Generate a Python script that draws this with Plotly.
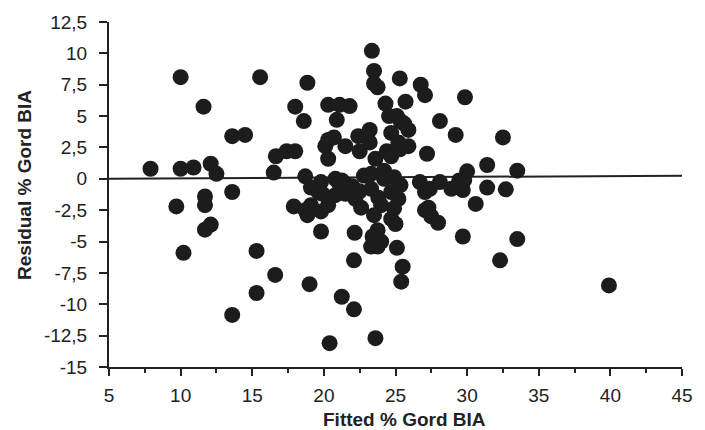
import plotly.graph_objects as go

# Data (Fitted % Gord BIA vs Residual % Gord BIA)
fitted = [
    7.9, 10.0, 10.0, 10.9, 11.6, 12.1, 12.5, 13.6, 14.5, 13.6, 9.7, 11.7, 11.7, 11.7, 12.1,
    10.2, 15.55, 15.3, 15.3, 16.6, 13.6, 18.85, 18.0, 18.6, 16.65, 17.4, 18.0, 16.5, 18.7,
    19.1, 19.65, 19.8, 17.9, 18.85, 19.1, 18.7, 20.3, 19.8, 19.8, 19.0, 20.4, 21.25, 22.1,
    22.1, 22.15,
    20.3, 21.1, 21.8, 20.9, 20.3, 20.1, 20.7, 20.3, 21.5, 22.4, 22.5, 23.2, 23.2, 23.6, 24.4,
    24.7, 24.7, 23.35, 23.5, 23.5, 23.75, 25.3, 26.76, 27.06, 29.85, 24.3, 25.7, 24.55, 25.1,
    25.35, 25.6, 25.9, 25.2, 25.9, 25.3, 28.1, 29.2, 32.5, 27.2, 31.4, 30.0, 33.5,
    21.0, 21.25, 20.8, 21.5, 22.0, 22.8, 23.3, 24.2, 24.9, 24.2, 23.3, 22.5, 24.7, 22.2, 20.8,
    19.9, 21.5, 23.8, 25.35, 25.2, 26.7, 27.06, 27.4, 28.1, 28.9, 29.45, 29.7, 29.8, 31.4,
    32.7, 30.6, 24.0, 24.9,
    22.6, 23.5, 24.7, 25.0, 23.75, 23.4, 23.3, 23.75, 24.0, 25.1, 25.5, 25.4, 23.6, 27.06,
    27.5, 27.97, 27.3, 29.7, 33.5, 32.3, 39.9,
]
residual = [
    0.8, 8.1, 0.8, 0.9, 5.75, 1.2, 0.4, 3.4, 3.5, -1.05, -2.2, -1.4, -2.1, -4.05, -3.65,
    -5.9, 8.1, -5.75, -9.1, -7.66, -10.85, 7.66, 5.75, 4.6, 1.8, 2.2, 2.2, 0.5, 0.2,
    -0.7, -1.1, -0.26, -2.2, -2.9, -2.1, -2.5, -2.1, -2.6, -4.2, -8.4, -13.1, -9.4, -10.4,
    -6.5, -4.3,
    5.9, 5.9, 5.8, 4.7, 3.1, 2.6, 3.3, 1.6, 2.6, 3.4, 2.2, 3.9, 2.9, 1.6, 2.2,
    3.66, 1.8, 10.2, 8.6, 7.6, 7.3, 8.0, 7.5, 6.67, 6.5, 6.0, 6.15, 5.0, 5.0,
    4.6, 4.4, 3.9, 2.9, 2.6, 2.35, 4.6, 3.5, 3.3, 2.0, 1.1, 0.6, 0.65,
    -0.26, -0.13, 0.0, -0.4, -0.6, 0.26, 0.4, 0.65, 0.13, 0.0, -0.8, -1.0, -1.05, -1.6, -1.3,
    -1.2, -1.2, -1.5, -0.5, -1.6, -0.26, -1.05, -0.8, -0.26, -0.8, -0.13, -0.9, -0.1, -0.7,
    -0.84, -2.0, -2.1, -2.35,
    -2.3, -2.9, -3.2, -3.6, -4.1, -4.6, -5.4, -5.4, -5.0, -5.5, -7.0, -8.2, -12.7, -2.5,
    -3.0, -3.5, -2.3, -4.6, -4.8, -6.5, -8.5,
]

# Fitted regression line of residuals (nearly flat at zero)
line_x = [5, 45]
line_y = [0.0, 0.25]

x_ticks = [5, 10, 15, 20, 25, 30, 35, 40, 45]
y_ticks = [12.5, 10, 7.5, 5, 2.5, 0, -2.5, -5, -7.5, -10, -12.5, -15]
y_tick_text = ["12,5", "10", "7,5", "5", "2,5", "0", "-2,5", "-5", "-7,5", "-10", "-12,5", "-15"]

ink = "#1c1c1c"
tick_font = dict(family="Liberation Sans, Arial, sans-serif", size=19, color="#222")
title_font = dict(family="Liberation Sans, Arial, sans-serif", size=19, color="#222")

fig = go.Figure()
fig.add_trace(go.Scatter(
    x=line_x, y=line_y, mode="lines",
    line=dict(color="#222", width=2), hoverinfo="skip", showlegend=False,
))
fig.add_trace(go.Scatter(
    x=fitted, y=residual, mode="markers",
    marker=dict(size=16, color=ink, line=dict(width=0)),
    cliponaxis=False, showlegend=False,
))

fig.update_layout(
    width=705, height=430,
    margin=dict(l=109, r=13, t=17, b=63),
    paper_bgcolor="white", plot_bgcolor="white",
    showlegend=False,
)
fig.update_xaxes(
    range=[5, 45], tickvals=x_ticks, ticks="outside", ticklen=7, tickwidth=1.5,
    tickcolor="#222", showline=True, linecolor="#222", linewidth=2,
    showgrid=False, zeroline=False, tickfont=tick_font, ticklabelstandoff=3,
    minor=dict(dtick=2.5, ticks="outside", ticklen=4, tickwidth=1.5, tickcolor="#222", showgrid=False),
)
fig.update_yaxes(
    range=[-15, 12.5], tickvals=y_ticks, ticktext=y_tick_text, ticks="outside",
    ticklen=8, tickwidth=1.5, tickcolor="#222", showline=True, linecolor="#222",
    linewidth=2, showgrid=False, zeroline=False, tickfont=tick_font, ticklabelstandoff=8,
)
fig.add_annotation(
    text="<b>Fitted % Gord BIA</b>", xref="paper", yref="paper",
    x=0.516, y=-0.152, xanchor="center", yanchor="middle", showarrow=False, font=title_font,
)
fig.add_annotation(
    text="<b>Residual % Gord BIA</b>", xref="paper", yref="paper",
    x=-0.1475, y=0.529, xanchor="center", yanchor="middle", textangle=-90,
    showarrow=False, font=title_font,
)

fig.write_html("out.html")
